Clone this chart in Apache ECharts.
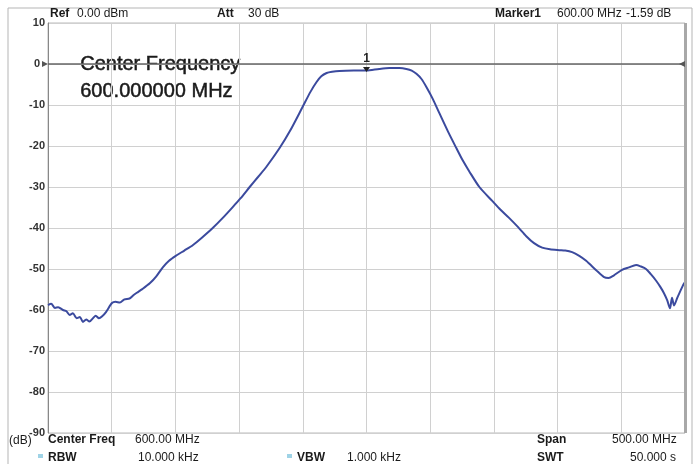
<!DOCTYPE html>
<html>
<head>
<meta charset="utf-8">
<script src="https://cdn.jsdelivr.net/npm/echarts@6/dist/echarts.min.js"></script>
<style>
  html, body { margin: 0; padding: 0; background: #fff; }
  #chart { width: 700px; height: 464px; }
</style>
</head>
<body>
<div id="chart"></div>
<script>
// frequency (MHz) and level (dB)
var freqMHz = [350.0, 352.5, 355.5, 358.0, 361.8, 364.5, 367.0, 369.5, 372.5, 375.0,
  377.4, 380.0, 382.5, 385.3, 387.5, 390.0, 392.3, 395.5, 400.2, 403.0,
  406.4, 410.0, 414.0, 417.0, 419.7, 424.0, 429.9, 435.0, 440.1, 445.0,
  450.3, 457.0, 463.6, 471.0, 479.3, 487.0, 495.0, 501.0, 508.3, 515.0,
  521.6, 531.8, 540.0, 549.8, 556.0, 560.8, 564.5, 568.7, 573.0, 578.8,
  590.0, 600.0, 610.0, 618.0, 626.0, 631.3, 635.5, 639.2, 643.0, 647.0,
  652.0, 657.2, 664.0, 670.5, 675.5, 680.7, 688.6, 698.7, 705.0, 712.1,
  719.0, 725.4, 731.5, 737.9, 744.0, 751.3, 756.0, 761.4, 767.0, 772.4,
  780.3, 786.5, 790.0, 794.0, 800.6, 806.0, 811.6, 815.5, 819.4, 823.0,
  827.2, 830.5, 833.5, 836.0, 838.2, 839.8, 841.4, 844.0, 848.4, 850.0];
var levelDb = [-58.8, -58.5, -59.5, -59.3, -60.0, -60.3, -61.2, -60.8, -62.0, -61.7,
  -62.9, -62.3, -62.8, -62.0, -61.4, -62.0, -61.6, -60.5, -58.3, -58.0,
  -58.2, -57.4, -57.2, -56.4, -55.8, -54.9, -53.5, -51.8, -49.6, -48.0,
  -46.8, -45.5, -44.2, -42.3, -40.0, -37.6, -34.9, -32.8, -30.0, -27.5,
  -25.0, -20.5, -16.3, -10.5, -6.8, -4.4, -3.0, -2.2, -1.9, -1.7,
  -1.6, -1.59, -1.2, -1.0, -1.0, -1.2, -1.6, -2.4, -3.6, -5.6,
  -8.5, -12.0, -16.5, -20.5, -23.5, -26.2, -30.0, -33.4, -35.5, -37.6,
  -39.8, -42.0, -43.7, -44.8, -45.2, -45.4, -45.5, -45.9, -46.8, -48.0,
  -50.3, -52.0, -52.2, -51.6, -50.2, -49.6, -49.0, -49.4, -50.0, -51.2,
  -52.8, -54.3, -55.9, -57.6, -59.6, -57.0, -58.9, -57.0, -54.0, -53.2];

var marker1 = [600, -1.59];
var refLevel = 0;

var fnt = 'Liberation Sans';
var trace = freqMHz.map(function (f, i) { return [f, levelDb[i]]; });

var myChart = echarts.init(document.getElementById('chart'));

// small helper for the instrument readout texts
function txt(x, y, s, bold, size) {
  var st = { text: s, fontFamily: fnt, fontSize: size || 12, fontWeight: bold ? 'bold' : 'normal', fill: '#1a1a1a' };
  if (size > 14) { st.stroke = '#1a1a1a'; st.lineWidth = 0.5; }
  return { type: 'text', left: x, top: y, style: st };
}

var option = {
  backgroundColor: '#fff',
  animation: false,
  grid: { left: 48, right: 15, top: 23, bottom: 31, show: true, borderColor: '#bbb', borderWidth: 1 },
  xAxis: {
    type: 'value', min: 350, max: 850, interval: 50,
    axisLabel: { show: false }, axisTick: { show: false },
    axisLine: { show: false },
    splitLine: { show: true, lineStyle: { color: '#d0d0d0', width: 1 } }
  },
  yAxis: {
    type: 'value', min: -90, max: 10, interval: 10,
    axisLine: { show: true, lineStyle: { color: '#888' } },
    axisTick: { show: false },
    axisLabel: {
      color: '#333', fontFamily: fnt, fontSize: 11, fontWeight: 'bold', margin: 3,
      formatter: function (v) { return v === 0 ? '{z|0}' : String(v); },
      rich: { z: { fontFamily: fnt, fontSize: 11, fontWeight: 'bold', color: '#333', padding: [0, 5, 0, 0] } }
    },
    splitLine: { show: true, lineStyle: { color: '#d0d0d0', width: 1 } }
  },
  graphic: [
    { type: 'rect', shape: { x: 8, y: 8, width: 684, height: 470 }, style: { fill: 'none', stroke: '#b5b5b5', lineWidth: 1 } },
    txt(50, 8, 'Ref', true), txt(77, 8, '0.00 dBm'),
    txt(217, 8, 'Att', true), txt(248, 8, '30 dB'),
    txt(495, 8, 'Marker1', true), txt(557, 8, '600.00 MHz'), txt(626, 8, '-1.59 dB'),
    txt(80, 54, 'Center Frequency', false, 20), txt(80, 81, '600.000000 MHz', false, 20),
    txt(9, 435, '(dB)', false, 12),
    txt(48, 434, 'Center Freq', true), txt(135, 434, '600.00 MHz'),
    txt(537, 434, 'Span', true), txt(612, 434, '500.00 MHz'),
    { type: 'rect', shape: { x: 38, y: 454, width: 5, height: 4 }, style: { fill: '#9fd3e6' } },
    txt(48, 452, 'RBW', true), txt(138, 452, '10.000 kHz'),
    { type: 'rect', shape: { x: 287, y: 454, width: 5, height: 4 }, style: { fill: '#9fd3e6' } },
    txt(297, 452, 'VBW', true), txt(347, 452, '1.000 kHz'),
    txt(537, 452, 'SWT', true), txt(630, 452, '50.000 s')
  ],
  series: [{
    name: 'Trace1',
    type: 'line',
    data: trace,
    showSymbol: false,
    smooth: 0.25,
    lineStyle: { color: '#3b4a9e', width: 2 },
    markLine: {
      silent: true, symbol: 'none', label: { show: false },
      data: [
        { yAxis: refLevel, lineStyle: { color: '#666', width: 1.5, type: 'solid' } },
        { xAxis: 850, lineStyle: { color: '#a8a8a8', width: 3, type: 'solid' } }
      ]
    },
    markPoint: {
      silent: true,
      data: [
        { coord: marker1, symbol: 'triangle', symbolRotate: 180, symbolSize: [7, 5], symbolOffset: [0, -1],
          itemStyle: { color: '#222' },
          label: { show: true, formatter: '1', position: 'top', distance: 2, color: '#222', fontFamily: fnt, fontSize: 12, fontWeight: 'bold' } },
        { coord: [350, refLevel], symbol: 'triangle', symbolRotate: -90, symbolSize: 6, symbolOffset: [-3, 0],
          itemStyle: { color: '#555' }, label: { show: false } },
        { coord: [850, refLevel], symbol: 'triangle', symbolRotate: 90, symbolSize: 6, symbolOffset: [-3, 0],
          itemStyle: { color: '#555' }, label: { show: false } }
      ]
    }
  }]
};
myChart.setOption(option, true);
</script>
</body>
</html>
